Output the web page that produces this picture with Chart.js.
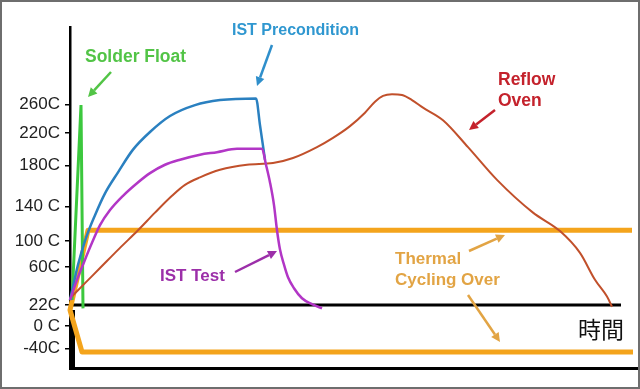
<!DOCTYPE html>
<html>
<head>
<meta charset="utf-8">
<title>Thermal profiles</title>
<script src="https://cdn.jsdelivr.net/npm/chart.js@4.4.1/dist/chart.umd.min.js"></script>
<style>
  body { margin: 0; background: #fff; }
  canvas { display: block; }
</style>
</head>
<body>
<canvas id="myChart" width="640" height="389"></canvas>
<script>
// y axis labels, and the level each one sits at (the axis in the picture is not evenly spaced)
const yTickLabels = ['260C', '220C', '180C', '140 C', '100 C', '60C', '22C', '0 C', '-40C'];
const yTickAt = [261, 227, 188, 139, 98, 67, 22, -3, -30];

// time in arbitrary units (0..567), temperature in C
const solderTime = [2, 11, 13];
const solderTemp = [28, 260, 18];

const precondTime = [0, 8, 16, 25, 35, 48, 63, 80, 100, 125, 150, 186, 190, 195];
const precondTemp = [28, 70, 102, 129, 155, 180, 207, 228, 247, 260, 266, 268, 236, 195];

const istTime = [0, 7, 14, 22, 30, 40, 53, 67, 80, 95, 110, 130, 147, 167, 192, 196, 200, 204, 207, 210, 214, 218, 224, 232, 242, 252];
const istTemp = [28, 52, 73, 96, 117, 135, 152, 167, 179, 189, 195, 201, 204, 208, 208, 189, 168, 141, 111, 88, 70, 55, 42, 30, 23, 18];

const reflowTime = [0, 15, 30, 50, 68, 85, 102, 115, 130, 150, 177, 203, 223, 247, 263, 280, 295, 305, 313, 322, 332, 342, 353, 373, 398, 427, 463, 490, 510, 525, 537, 542];
const reflowTemp = [30, 48, 66, 90, 111, 132, 152, 165, 174, 183, 189, 191, 197, 210, 221, 235, 251, 264, 271, 273, 272, 266, 257, 242, 210, 171, 132, 110, 84, 52, 32, 20];

const cycleTime = [562, 18, 0, 12, 563];
const cycleTemp = [111, 111, 16, -34, -34];

// the 22C "time" line and the heavy stub under it
const baseTime = [0, 551];
const baseTemp = [22, 22];
const stubTime = [3, 3];
const stubTemp = [16, -53];

function pts(xs, ys) {
    return xs.map((x, i) => ({ x: x, y: ys[i] }));
}

const notes = [
    { text: 'Solder Float', x: 85, y: 57, color: '#52c446', size: 17.5 },
    { text: 'IST Precondition', x: 232, y: 31, color: '#2f97d0', size: 16 },
    { text: 'Reflow', x: 498, y: 80, color: '#c4222c', size: 17.5 },
    { text: 'Oven', x: 498, y: 101, color: '#c4222c', size: 17.5 },
    { text: 'IST Test', x: 160, y: 276, color: '#9c2fa9', size: 17 },
    { text: 'Thermal', x: 395, y: 259, color: '#e2a444', size: 17 },
    { text: 'Cycling Over', x: 395, y: 280, color: '#e2a444', size: 17 },
];

const arrows = [
    { from: [111, 72], to: [88, 97], color: '#52c446' },
    { from: [272, 45], to: [257, 86], color: '#2f8fcb' },
    { from: [495, 110], to: [469, 130], color: '#c4222c' },
    { from: [235, 272], to: [277, 251], color: '#9c2fa9' },
    { from: [469, 251], to: [505, 235], color: '#e2a444' },
    { from: [468, 295], to: [500, 342], color: '#e2a444' },
];

const decor = {
    id: 'decor',
    beforeDraw(chart) {
        const ctx = chart.ctx;
        ctx.save();
        ctx.fillStyle = '#fff';
        ctx.fillRect(0, 0, chart.width, chart.height);
        ctx.restore();
    },
    afterDraw(chart) {
        const ctx = chart.ctx;
        ctx.save();
        // labels
        ctx.textBaseline = 'middle';
        ctx.textAlign = 'left';
        notes.forEach(n => {
            ctx.font = `bold ${n.size}px "Liberation Sans", Arial, sans-serif`;
            ctx.fillStyle = n.color;
            ctx.fillText(n.text, n.x, n.y);
        });
        ctx.font = '23px "Noto Sans CJK TC", "Noto Sans CJK JP", sans-serif';
        ctx.fillStyle = '#111';
        ctx.fillText('時間', 578, 329);

        // arrows
        arrows.forEach(a => {
            const [x1, y1] = a.from;
            const [x2, y2] = a.to;
            const ang = Math.atan2(y2 - y1, x2 - x1);
            const len = 9, half = 4.5;
            const bx = x2 - len * Math.cos(ang), by = y2 - len * Math.sin(ang);
            ctx.strokeStyle = a.color;
            ctx.fillStyle = a.color;
            ctx.lineWidth = 2.5;
            ctx.beginPath();
            ctx.moveTo(x1, y1);
            ctx.lineTo(bx, by);
            ctx.stroke();
            ctx.beginPath();
            ctx.moveTo(x2, y2);
            ctx.lineTo(bx + half * Math.sin(ang), by - half * Math.cos(ang));
            ctx.lineTo(bx - half * Math.sin(ang), by + half * Math.cos(ang));
            ctx.closePath();
            ctx.fill();
        });

        // frame round the picture
        ctx.strokeStyle = '#6e6e6e';
        ctx.lineWidth = 2;
        ctx.strokeRect(1, 1, chart.width - 2, chart.height - 2);
        ctx.restore();
    }
};

const ctx = document.getElementById('myChart');

new Chart(ctx, {
    type: 'line',
    data: {
        datasets: [
            { label: 'IST Test', data: pts(istTime, istTemp), borderColor: '#b236c6', borderWidth: 2.5, cubicInterpolationMode: 'monotone' },
            { label: 'Reflow Oven', data: pts(reflowTime, reflowTemp), borderColor: '#c1502b', borderWidth: 2, cubicInterpolationMode: 'monotone' },
            { label: 'IST Precondition', data: pts(precondTime, precondTemp), borderColor: '#2a80c0', borderWidth: 2.5, cubicInterpolationMode: 'monotone' },
            { label: 'Solder Float', data: pts(solderTime, solderTemp), borderColor: '#3cc83e', borderWidth: 3, tension: 0 },
            { label: 'Thermal Cycling', data: pts(cycleTime, cycleTemp), borderColor: '#f4a41c', borderWidth: 5, tension: 0, borderJoinStyle: 'round' },
            { label: 'base', data: pts(baseTime, baseTemp), borderColor: '#000', borderWidth: 3, tension: 0 },
            { label: 'stub', data: pts(stubTime, stubTemp), borderColor: '#000', borderWidth: 4, tension: 0 },
        ]
    },
    options: {
        responsive: false,
        animation: false,
        layout: { padding: { left: 0, top: 27, right: 3, bottom: 21 } },
        elements: { point: { radius: 0 }, line: { borderCapStyle: 'butt' } },
        datasets: { line: { clip: false, fill: false } },
        plugins: {
            legend: { display: false },
            tooltip: { enabled: false }
        },
        scales: {
            x: {
                type: 'linear',
                min: 0,
                max: 567,
                ticks: { display: false },
                grid: { display: false },
                border: { color: '#000', width: 3 },
                afterFit(scale) { scale.height = 0; }
            },
            y: {
                type: 'linear',
                min: -53,
                max: 353,
                afterBuildTicks(scale) {
                    scale.ticks = yTickAt.map(v => ({ value: v }));
                },
                afterFit(scale) { scale.width = 70; },
                ticks: {
                    callback: (v, i) => yTickLabels[i],
                    color: '#222',
                    padding: 5,
                    font: { family: '"Liberation Sans", Arial, sans-serif', size: 17 }
                },
                grid: { drawOnChartArea: false, drawTicks: true, tickLength: 5, color: '#000', lineWidth: 1.5 },
                border: { color: '#000', width: 2.5 }
            }
        }
    },
    plugins: [decor]
});
</script>
</body>
</html>
